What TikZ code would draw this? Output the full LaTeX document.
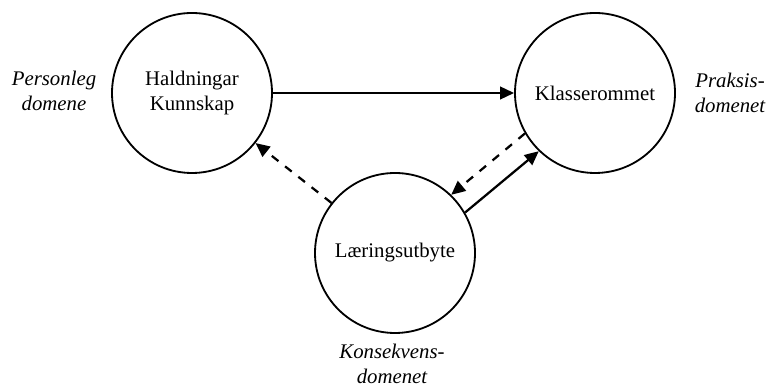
\documentclass[tikz,border=0pt]{standalone}
\usepackage{fontspec}
\setmainfont{Liberation Serif}
\usepackage{tikz}
\usetikzlibrary{arrows.meta,
	positioning}

\begin{document}
\begin{tikzpicture}[
        domainnode/.style={draw, circle, line width=1.3pt, minimum size=4cm,
            align=center, font=\fontsize{14.8}{17.8}\selectfont},
        lbl/.style={align=center, font=\fontsize{14.8}{17.5}\selectfont\itshape},
        flow/.style={line width=1.6pt, -{Triangle[length=10pt,width=9pt]}},
        feedback/.style={flow, dash pattern=on 6pt off 6pt}
    ]

        \useasboundingbox (0,0) rectangle (19.2,9.675);

        \node[domainnode] (pers) at(4.8,7.35) {Haldningar\\Kunnskap};
        \node[domainnode] (prak) at(14.875,7.35) {Klasserommet};
        \node[domainnode] (kons) at(9.875,3.35) {Læringsutbyte};

        \node[lbl] (perslbl) at(1.35,7.4) {Personleg\\domene};
        \node[lbl] (praklbl) at(18.25,7.35) {Praksis-\\domenet};
        \node[lbl] (konslbl) at(9.8,0.58) {Konsekvens-\\domenet};

        \draw [flow] (pers) -- (prak);
        \draw [feedback] (kons) -- (pers);
        \draw [feedback] (prak.210) -- (kons.46);
        \draw [flow] (kons.30) -- (prak.226);

    \end{tikzpicture}
\end{document}
